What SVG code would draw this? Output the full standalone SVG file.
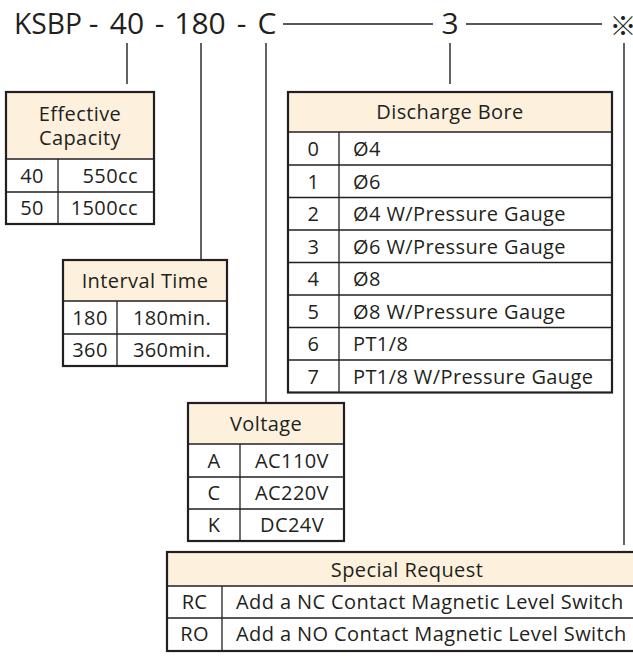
<svg xmlns="http://www.w3.org/2000/svg" width="633" height="656" viewBox="0 0 633 656">
<style>
text{font-family:"Open Sans","Noto Sans",sans-serif;fill:#231f20}
.t{font-size:30px}
.c{font-size:20px;text-anchor:middle;letter-spacing:0.4px}
.l{font-size:20px;letter-spacing:0.4px}
.r{font-size:20px;text-anchor:end;letter-spacing:0.4px}
.hd{fill:#fdf1de;stroke:none}
.box{fill:none;stroke:#231f20;stroke-width:2.2}
.in{stroke:#231f20;stroke-width:1.3;fill:none}
.cn{stroke:#231f20;stroke-width:1.4;fill:none}
</style>
<rect width="633" height="656" fill="#ffffff"/>
<g id="title">
<text class="t" x="14" y="34" textLength="68" lengthAdjust="spacingAndGlyphs">KSBP</text>
<text class="t" x="93.5" y="34" text-anchor="middle">-</text>
<text class="t" x="127" y="34" text-anchor="middle">40</text>
<text class="t" x="159.5" y="34" text-anchor="middle">-</text>
<text class="t" x="200" y="34" text-anchor="middle">180</text>
<text class="t" x="241.5" y="34" text-anchor="middle">-</text>
<text class="t" x="267" y="34" text-anchor="middle">C</text>
<text class="t" x="450" y="34" text-anchor="middle">3</text>
<text x="623" y="24" font-size="27" text-anchor="middle" dominant-baseline="central" style="font-family:'Noto Sans CJK JP','Noto Sans CJK SC',sans-serif">※</text>
</g>
<g id="connectors">
<line class="cn" x1="283" y1="24" x2="433" y2="24"/>
<line class="cn" x1="466" y1="24" x2="602" y2="24"/>
<line class="cn" x1="127" y1="43" x2="127" y2="84"/>
<line class="cn" x1="201" y1="43" x2="201" y2="260"/>
<line class="cn" x1="266" y1="43" x2="266" y2="403"/>
<line class="cn" x1="450" y1="43" x2="450" y2="84"/>
<line class="cn" x1="624" y1="43" x2="624" y2="545"/>
</g>
<g id="effective-capacity">
<rect class="hd" x="6" y="92" width="148" height="67"/>
<line class="in" x1="6" y1="159" x2="154" y2="159"/>
<line class="in" x1="6" y1="192" x2="154" y2="192"/>
<line class="in" x1="58" y1="159" x2="58" y2="224"/>
<rect class="box" x="6" y="92" width="148" height="132"/>
<text class="c" x="80" y="121">Effective</text>
<text class="c" x="80" y="145">Capacity</text>
<text class="c" x="32" y="183">40</text>
<text class="r" x="138" y="183">550cc</text>
<text class="c" x="32" y="215">50</text>
<text class="r" x="138" y="215">1500cc</text>
</g>
<g id="interval-time">
<rect class="hd" x="63" y="260" width="164" height="41"/>
<line class="in" x1="63" y1="301" x2="227" y2="301"/>
<line class="in" x1="63" y1="334" x2="227" y2="334"/>
<line class="in" x1="117" y1="301" x2="117" y2="366"/>
<rect class="box" x="63" y="260" width="164" height="106"/>
<text class="c" x="145" y="288">Interval Time</text>
<text class="c" x="90" y="325">180</text>
<text class="c" x="172" y="325">180min.</text>
<text class="c" x="90" y="357">360</text>
<text class="c" x="172" y="357">360min.</text>
</g>
<g id="discharge-bore">
<rect class="hd" x="288" y="92" width="324" height="40"/>
<g class="in">
<line x1="288" y1="132" x2="612" y2="132"/>
<line x1="288" y1="165" x2="612" y2="165"/>
<line x1="288" y1="197.5" x2="612" y2="197.5"/>
<line x1="288" y1="230" x2="612" y2="230"/>
<line x1="288" y1="262.5" x2="612" y2="262.5"/>
<line x1="288" y1="295" x2="612" y2="295"/>
<line x1="288" y1="327.5" x2="612" y2="327.5"/>
<line x1="288" y1="360" x2="612" y2="360"/>
<line x1="339" y1="132" x2="339" y2="392.5"/>
</g>
<rect class="box" x="288" y="92" width="324" height="300.5"/>
<text class="c" x="450" y="119">Discharge Bore</text>
<text class="c" x="313.5" y="156">0</text><text class="l" x="353" y="156">Ø4</text>
<text class="c" x="313.5" y="188.5">1</text><text class="l" x="353" y="188.5">Ø6</text>
<text class="c" x="313.5" y="221">2</text><text class="l" x="353" y="221">Ø4 W/Pressure Gauge</text>
<text class="c" x="313.5" y="253.5">3</text><text class="l" x="353" y="253.5">Ø6 W/Pressure Gauge</text>
<text class="c" x="313.5" y="286">4</text><text class="l" x="353" y="286">Ø8</text>
<text class="c" x="313.5" y="318.5">5</text><text class="l" x="353" y="318.5">Ø8 W/Pressure Gauge</text>
<text class="c" x="313.5" y="351">6</text><text class="l" x="353" y="351">PT1/8</text>
<text class="c" x="313.5" y="383.5">7</text><text class="l" x="353" y="383.5">PT1/8 W/Pressure Gauge</text>
</g>
<g id="voltage">
<rect class="hd" x="188" y="403" width="156" height="41"/>
<line class="in" x1="188" y1="444" x2="344" y2="444"/>
<line class="in" x1="188" y1="477" x2="344" y2="477"/>
<line class="in" x1="188" y1="509" x2="344" y2="509"/>
<line class="in" x1="240" y1="444" x2="240" y2="541"/>
<rect class="box" x="188" y="403" width="156" height="138"/>
<text class="c" x="266" y="431">Voltage</text>
<text class="c" x="214" y="468">A</text><text class="c" x="292" y="468">AC110V</text>
<text class="c" x="214" y="500">C</text><text class="c" x="292" y="500">AC220V</text>
<text class="c" x="214" y="532">K</text><text class="c" x="292" y="532">DC24V</text>
</g>
<g id="special-request">
<rect class="hd" x="167" y="552" width="480" height="34"/>
<line class="in" x1="167" y1="586" x2="647" y2="586"/>
<line class="in" x1="167" y1="618" x2="647" y2="618"/>
<line class="in" x1="222" y1="586" x2="222" y2="651"/>
<rect class="box" x="167" y="552" width="480" height="99"/>
<text class="c" x="407" y="577">Special Request</text>
<text class="c" x="194.5" y="609">RC</text><text class="l" x="236" y="609">Add a NC Contact Magnetic Level Switch</text>
<text class="c" x="194.5" y="641">RO</text><text class="l" x="236" y="641">Add a NO Contact Magnetic Level Switch</text>
</g>
</svg>
